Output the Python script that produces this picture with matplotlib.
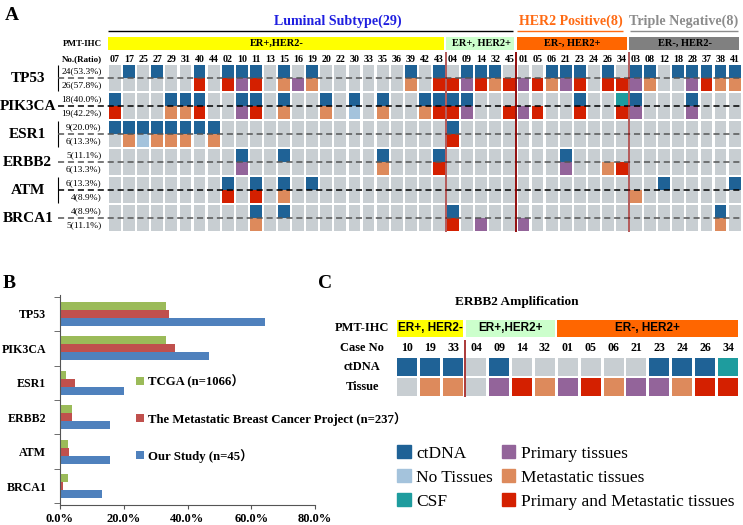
import matplotlib
matplotlib.use("Agg")
import matplotlib.pyplot as plt
from matplotlib.patches import Patch

plt.rcParams['font.family'] = ['Liberation Serif', 'Noto Sans CJK SC']

# ---------------- panel A data ----------------
cases_a = ["07", "17", "25", "27", "29", "31", "40", "44", "02", "10", "11", "13",
           "15", "16", "19", "20", "22", "30", "33", "35", "36", "39", "42", "43",
           "04", "09", "14", "32", "45",
           "01", "05", "06", "21", "23", "24", "26", "34",
           "03", "08", "12", "18", "28", "37", "38", "41"]
ihc_labels_a = ["ER+,HER2-", "ER+, HER2+", "ER-, HER2+", "ER-, HER2-"]
ihc_sizes_a = [24, 5, 8, 8]
ihc_colors_a = ["#ffff00", "#ccffcc", "#ff6600", "#808080"]
subtype_labels = ["Luminal Subtype(29)", "HER2 Positive(8)", "Triple Negative(8)"]
subtype_sizes = [29, 8, 8]
subtype_colors = ["#1f1fe0", "#ff6a13", "#8c8c8c"]

genes = ["TP53", "PIK3CA", "ESR1", "ERBB2", "ATM", "BRCA1"]
ctdna_ratio = ["24(53.3%)", "18(40.0%)", "9(20.0%)", "5(11.1%)", "6(13.3%)", "4(8.9%)"]
tissue_ratio = ["26(57.8%)", "19(42.2%)", "6(13.3%)", "6(13.3%)", "4(8.9%)", "5(11.1%)"]

# C = ctDNA, F = CSF, N = no tissues, P = primary, M = metastatic, B = both
tp53_ct = {c: "C" for c in ["17", "27", "40", "02", "10", "11", "15", "19", "39", "43",
                             "09", "14", "32", "06", "21", "23", "26",
                             "03", "08", "18", "28", "37", "38", "41"]}
tp53_ti = {"40": "B", "02": "B", "10": "P", "11": "B", "15": "M", "16": "P", "19": "M",
           "39": "M", "43": "B", "04": "B", "09": "P", "14": "B", "32": "M", "45": "B",
           "01": "P", "05": "B", "06": "M", "21": "P", "23": "B", "26": "B", "34": "B",
           "03": "P", "08": "M", "28": "P", "37": "B", "38": "M", "41": "M"}
pik3ca_ct = {c: "C" for c in ["07", "29", "31", "40", "10", "11", "15", "20", "30", "35",
                               "42", "43", "04", "09", "23", "03", "28"]}
pik3ca_ct["34"] = "F"
pik3ca_ti = {"07": "B", "29": "M", "31": "M", "40": "B", "10": "P", "11": "B", "15": "M",
             "20": "M", "30": "N", "35": "M", "42": "M", "43": "B", "04": "B", "09": "P",
             "45": "B", "01": "P", "05": "B", "23": "B", "34": "B", "03": "P", "28": "P"}
esr1_ct = {c: "C" for c in ["07", "17", "25", "27", "29", "31", "40", "44", "04"]}
esr1_ti = {"17": "M", "25": "N", "27": "M", "29": "M", "31": "M", "44": "M", "04": "B"}
erbb2_ct = {c: "C" for c in ["10", "15", "35", "43", "21"]}
erbb2_ti = {"10": "P", "35": "M", "43": "B", "21": "P", "26": "M", "34": "B"}
atm_ct = {c: "C" for c in ["02", "11", "15", "19", "12", "41"]}
atm_ti = {"02": "B", "11": "B", "15": "M", "03": "M"}
brca1_ct = {c: "C" for c in ["11", "15", "04", "38"]}
brca1_ti = {"11": "M", "04": "B", "14": "P", "01": "P", "38": "M"}

ctdna_hits = [tp53_ct, pik3ca_ct, esr1_ct, erbb2_ct, atm_ct, brca1_ct]
tissue_hits = [tp53_ti, pik3ca_ti, esr1_ti, erbb2_ti, atm_ti, brca1_ti]

# ---------------- panel B data ----------------
b_genes = ["TP53", "PIK3CA", "ESR1", "ERBB2", "ATM", "BRCA1"]
tcga = [33.1, 33.1, 1.8, 3.7, 2.4, 2.4]
mbc = [34.2, 36.0, 4.7, 3.7, 2.8, 1.0]
our_study = [64.4, 46.7, 20.0, 15.6, 15.6, 13.3]
b_labels = ["TCGA (n=1066）", "The Metastatic Breast Cancer Project (n=237）", "Our Study (n=45）"]

# ---------------- panel C data ----------------
cases_c = ["10", "19", "33", "04", "09", "14", "32", "01", "05", "06", "21", "23", "24", "26", "34"]
ctdna_c = ["C", "C", "C", ".", "C", ".", ".", ".", ".", ".", ".", "C", "C", "C", "F"]
tissue_c = [".", "M", "M", ".", "P", "B", "M", "P", "B", "M", "P", "P", "M", "B", "B"]
ihc_labels_c = ["ER+, HER2-", "ER+,HER2+", "ER-, HER2+"]
ihc_sizes_c = [3, 4, 8]
ihc_colors_c = ["#ffff00", "#ccffcc", "#ff6600"]

colors = {".": "#c8ced2", "C": "#1f6296", "N": "#a4c3dc", "F": "#1e9c9e",
          "P": "#93649a", "M": "#dd8a5c", "B": "#d42000"}
legend_names = [("C", "ctDNA"), ("N", "No Tissues"), ("F", "CSF"),
                ("P", "Primary tissues"), ("M", "Metastatic tissues"),
                ("B", "Primary and Metastatic tissues")]

W, H = 743, 525
fig = plt.figure(figsize=(W / 100, H / 100), dpi=100)


def frac(x0, y0, x1, y1):
    return [x0 / W, 1 - y1 / H, (x1 - x0) / W, (y1 - y0) / H]


# ================= A =================
fig.text(5 / W, 1 - 15 / H, "A", fontsize=14, fontweight="bold", va="center")
axa = fig.add_axes(frac(108, 64, 741.7, 232))
n = len(cases_a)
xs = list(range(n))
for g in range(len(genes)):
    top = [colors[ctdna_hits[g].get(c, ".")] for c in cases_a]
    bot = [colors[tissue_hits[g].get(c, ".")] for c in cases_a]
    axa.bar(xs, [0.91] * n, bottom=2 * g - 0.41, width=0.84, color=top)
    axa.bar(xs, [0.91] * n, bottom=2 * g + 0.5, width=0.84, color=bot)
    dark = g in (1, 4)
    axa.hlines(2 * g + 0.5, -4.05, n - 0.5, colors="black" if dark else "#555555",
               linestyles=(0, (4, 2.5)), lw=1.1, zorder=3, clip_on=False)
    if g % 2 == 0:
        axa.vlines(-4.05, 2 * g - 0.45, 2 * g + 1.45, colors="black", lw=0.8, clip_on=False)
    axa.text(-6.2, 2 * g + 0.5, genes[g], fontsize=11, fontweight="bold",
             ha="center", va="center")
    axa.text(-0.95, 2 * g, ctdna_ratio[g], fontsize=6.8, ha="right", va="center")
    axa.text(-0.95, 2 * g + 1, tissue_ratio[g], fontsize=6.8, ha="right", va="center")

for i, c in enumerate(cases_a):
    axa.text(i, -0.85, c, fontsize=7.2, fontweight="bold", ha="center", va="center")
axa.text(-0.95, -0.85, "No.(Ratio)", fontsize=6.5, fontweight="bold", ha="right", va="center")
axa.text(-0.95, -1.95, "PMT-IHC", fontsize=6.5, fontweight="bold", ha="right", va="center")

start = 0
for lab, size, col in zip(ihc_labels_a, ihc_sizes_a, ihc_colors_a):
    axa.bar(start - 0.5 + 0.03, 0.93, bottom=-2.43, width=size - 0.2, color=col,
            align="edge", clip_on=False)
    axa.text(start - 0.5 + size / 2, -1.96, lab, fontsize=7.5, fontweight="bold",
             ha="center", va="center")
    start += size

bounds = [23.5, 28.5, 36.5]
for b, a in zip(bounds, [0.65, 0.95, 0.65]):
    axa.vlines(b, -1.35, 11.5, colors="#8b0000", lw=1.4, alpha=a, zorder=4, clip_on=False)

start = 0
line_span = [(-0.5, 28.25), (28.55, 36.1), (36.6, 44.25)]
text_x = [15.8, 32.4, 40.4]
for lab, size, col, (l0, l1), tx in zip(subtype_labels, subtype_sizes, subtype_colors,
                                         line_span, text_x):
    axa.hlines(-2.86, l0, l1, colors="black" if start == 0 else col, lw=1.0, clip_on=False)
    axa.text(tx, -3.57, lab, fontsize=10.1, fontweight="bold", color=col,
             ha="center", va="center")
    start += size

axa.set_xlim(-0.5, n - 0.5)
axa.set_ylim(11.5, -0.5)
axa.axis("off")

# ================= B =================
fig.text(3 / W, 1 - 283 / H, "B", fontsize=14, fontweight="bold", va="center")
axb = fig.add_axes(frac(60, 295, 315, 505))
ys = list(range(len(b_genes)))
h = 0.23
g1 = axb.barh([y - h for y in ys], tcga, height=h, color="#9bbb59")
g2 = axb.barh(ys, mbc, height=h, color="#c0504d")
g3 = axb.barh([y + h for y in ys], our_study, height=h, color="#4f81bd")
axb.set_ylim(5.55, -0.55)
axb.set_xlim(0, 80)
axb.set_yticks(ys)
axb.set_yticklabels(b_genes, fontsize=8.6, fontweight="bold")
axb.set_yticks([y + 0.5 for y in range(-1, len(b_genes))], minor=True)
axb.tick_params(axis="y", which="major", length=0, pad=10)
axb.tick_params(axis="y", which="minor", length=4, color="#555555")
axb.set_xticks([0, 20, 40, 60, 80])
axb.set_xticklabels(["0.0%", "20.0%", "40.0%", "60.0%", "80.0%"], fontsize=9,
                    fontweight="bold")
axb.tick_params(axis="x", length=3, color="#555555", pad=2.5)
for s in ["top", "right"]:
    axb.spines[s].set_visible(False)
for s in ["left", "bottom"]:
    axb.spines[s].set_color("#555555")
leg = fig.legend([g1, g2, g3], b_labels, loc="upper left",
                 bbox_to_anchor=(136 / W, 1 - 375 / H), frameon=False,
                 prop={"weight": "bold", "size": 9.2}, handlelength=0.65,
                 handleheight=0.65, handletextpad=0.3, labelspacing=1.8,
                 borderpad=0, borderaxespad=0)

# ================= C =================
fig.text(318 / W, 1 - 283 / H, "C", fontsize=14, fontweight="bold", va="center")
axc = fig.add_axes(frac(396, 357, 739.5, 397))
m = len(cases_c)
xc = list(range(m))
axc.bar(xc, [0.9] * m, bottom=-0.45, width=0.87, color=[colors[v] for v in ctdna_c])
axc.bar(xc, [0.9] * m, bottom=0.55, width=0.87, color=[colors[v] for v in tissue_c])
for i, c in enumerate(cases_c):
    axc.text(i, -0.95, c, fontsize=8.6, fontweight="bold", ha="center", va="center")
start = 0
for lab, size, col in zip(ihc_labels_c, ihc_sizes_c, ihc_colors_c):
    axc.bar(start - 0.45, 0.85, bottom=-2.35, width=size - 0.12, color=col,
            align="edge", clip_on=False)
    axc.text(start - 0.5 + size / 2, -1.93, lab, fontsize=8.5, fontweight="bold",
             family="Liberation Sans", ha="center", va="center")
    start += size
axc.vlines(2.5, -1.35, 1.5, colors="#a52a2a", lw=1.3, zorder=4, clip_on=False)
for yy, lab in zip([-1.93, -0.95, 0, 1], ["PMT-IHC", "Case No", "ctDNA", "Tissue"]):
    axc.text(-1.98, yy, lab, fontsize=9, fontweight="bold", ha="center", va="center")
axc.text(4.77, -3.25, "ERBB2 Amplification", fontsize=9.5, fontweight="bold",
         ha="center", va="center")
axc.set_xlim(-0.5, m - 0.5)
axc.set_ylim(1.5, -0.5)
axc.axis("off")

handles = [Patch(color=colors[k]) for k, _ in legend_names]
fig.legend(handles, [v for _, v in legend_names], loc="upper left", ncol=2,
           bbox_to_anchor=(397 / W, 1 - 445 / H), frameon=False, fontsize=12.5,
           handlelength=0.8, handleheight=0.8, handletextpad=0.3,
           labelspacing=0.42, columnspacing=0.5, borderpad=0, borderaxespad=0)

fig.savefig("out.png", dpi=100)
